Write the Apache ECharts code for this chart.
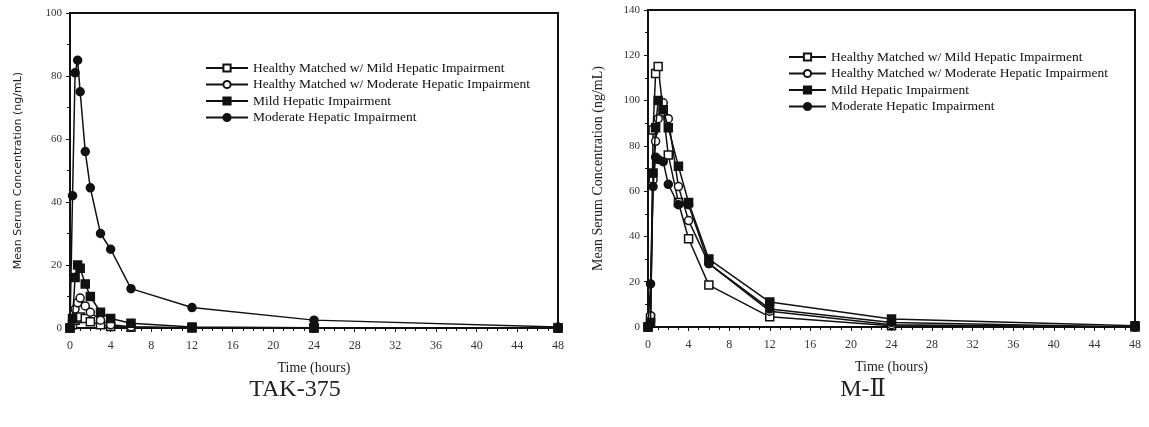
<!DOCTYPE html>
<html>
<head>
<meta charset="utf-8">
<script src="https://cdn.jsdelivr.net/npm/echarts@6/dist/echarts.min.js"></script>
<style>html,body{margin:0;padding:0;background:#fff}#c{width:1149px;height:427px}</style>
</head>
<body>
<div id="c"></div>
<script>
var times = [0, 0.25, 0.5, 0.75, 1, 1.5, 2, 3, 4, 6, 12, 24, 48];
var seriesNames = ['Healthy Matched w/ Mild Hepatic Impairment', 'Healthy Matched w/ Moderate Hepatic Impairment', 'Mild Hepatic Impairment', 'Moderate Hepatic Impairment'];
var panelTitles = ['TAK-375', 'M-Ⅱ'];
var xTitle = 'Time (hours)';
var yTitle = 'Mean Serum Concentration (ng/mL)';
// TAK-375
var takHealthyMild    = [0, 1, 2.5, 3, 3.5, 3, 2, 1, 0.5, 0.2, 0, 0, 0];
var takHealthyMod     = [0, 3, 6, 8, 9.5, 7, 5, 2.5, 1, 0.4, 0.1, 0, 0];
var takMild           = [0, 3, 16, 20, 19, 14, 10, 5, 3, 1.5, 0.3, 0.1, 0];
var takModerate       = [0, 42, 81, 85, 75, 56, 44.5, 30, 25, 12.5, 6.5, 2.5, 0.3];
// M-II
var m2HealthyMild     = [0, 4, 87, 112, 115, 95, 76, 55, 39, 18.5, 4.5, 0.5, 0];
var m2HealthyMod      = [0, 5, 65, 82, 92, 99, 92, 62, 47, 28, 7, 1, 0];
var m2Mild            = [0, 2, 68, 88, 100, 96, 88, 71, 55, 30, 11, 3.5, 0.5];
var m2Moderate        = [0, 19, 62, 75, 74, 73, 63, 54, 54, 28, 8, 2, 0];

var symbols = ['rect', 'circle', 'rect', 'circle'];
var fills = ['#fff', '#fff', '#111', '#111'];

function pairs(v) { return times.map(function (t, i) { return [t, v[i]]; }); }
function mk(name, idx, vals, axis) {
  return {
    name: name, type: 'line', xAxisIndex: axis, yAxisIndex: axis,
    data: pairs(vals), symbol: symbols[idx], symbolSize: 8,
    lineStyle: { color: '#111', width: 1.5 },
    itemStyle: { color: fills[idx], borderColor: '#111', borderWidth: 1.5 },
    z: 2 + idx, animation: false
  };
}
var serif = 'Liberation Serif, DejaVu Serif, serif';
function xAx(g) {
  return {
    type: 'value', gridIndex: g, min: 0, max: 48, interval: 4,
    name: xTitle, nameLocation: 'middle', nameGap: 33,
    nameTextStyle: { fontFamily: serif, fontSize: 14, color: '#222' },
    axisLine: { lineStyle: { color: '#111', width: 2 } },
    axisTick: { length: 4, lineStyle: { color: '#111' } },
    minorTick: { show: true, splitNumber: 4, length: 3, lineStyle: { color: '#111' } },
    splitLine: { show: false },
    axisLabel: { fontFamily: serif, fontSize: 12, color: '#333', margin: 12 }
  };
}
function yAx(g, max, family, fs, gap) {
  return {
    type: 'value', gridIndex: g, min: 0, max: max, interval: 20,
    name: yTitle, nameLocation: 'middle', nameGap: gap,
    nameTextStyle: { fontFamily: family, fontSize: fs, color: '#222' },
    axisLine: { lineStyle: { color: '#111', width: 2 } },
    axisTick: { length: 4, lineStyle: { color: '#111' } },
    minorTick: { show: true, splitNumber: 2, length: 3, lineStyle: { color: '#111' } },
    splitLine: { show: false },
    axisLabel: { fontFamily: serif, fontSize: 11, color: '#333', margin: 8 }
  };
}
var legendStyle = { fontFamily: serif, fontSize: 13.5, color: '#111' };
var option = {
  backgroundColor: '#fff',
  animation: false,
  title: [
    { text: panelTitles[0], left: 290, top: 373, textAlign: 'center', textStyle: { fontFamily: serif, fontSize: 24, fontWeight: 'normal', color: '#222' } },
    { text: panelTitles[1], left: 858, top: 373, textAlign: 'center', textStyle: { fontFamily: serif, fontSize: 24, fontWeight: 'normal', color: '#222' } }
  ],
  grid: [
    { left: 70, top: 13, right: 591, bottom: 99, show: true, borderColor: '#111', borderWidth: 2 },
    { left: 648, top: 10, right: 14, bottom: 100, show: true, borderColor: '#111', borderWidth: 2 }
  ],
  legend: [
    { left: 200, top: 56, orient: 'vertical', itemGap: 2.5, itemWidth: 42, itemHeight: 9, data: seriesNames, textStyle: legendStyle, selectedMode: false },
    { left: 783, top: 45, orient: 'vertical', itemGap: 2.5, itemWidth: 37, itemHeight: 9, data: seriesNames, textStyle: legendStyle, selectedMode: false }
  ],
  xAxis: [xAx(0), xAx(1)],
  yAxis: [yAx(0, 100, 'DejaVu Sans, Noto Sans, sans-serif', 11, 46), yAx(1, 140, serif, 14, 43)],
  series: [
    mk(seriesNames[0], 0, takHealthyMild, 0),
    mk(seriesNames[1], 1, takHealthyMod, 0),
    mk(seriesNames[2], 2, takMild, 0),
    mk(seriesNames[3], 3, takModerate, 0),
    mk(seriesNames[0], 0, m2HealthyMild, 1),
    mk(seriesNames[1], 1, m2HealthyMod, 1),
    mk(seriesNames[2], 2, m2Mild, 1),
    mk(seriesNames[3], 3, m2Moderate, 1)
  ]
};
var chart = echarts.init(document.getElementById('c'), null, { renderer: 'canvas' });
chart.setOption(option);
</script>
</body>
</html>
